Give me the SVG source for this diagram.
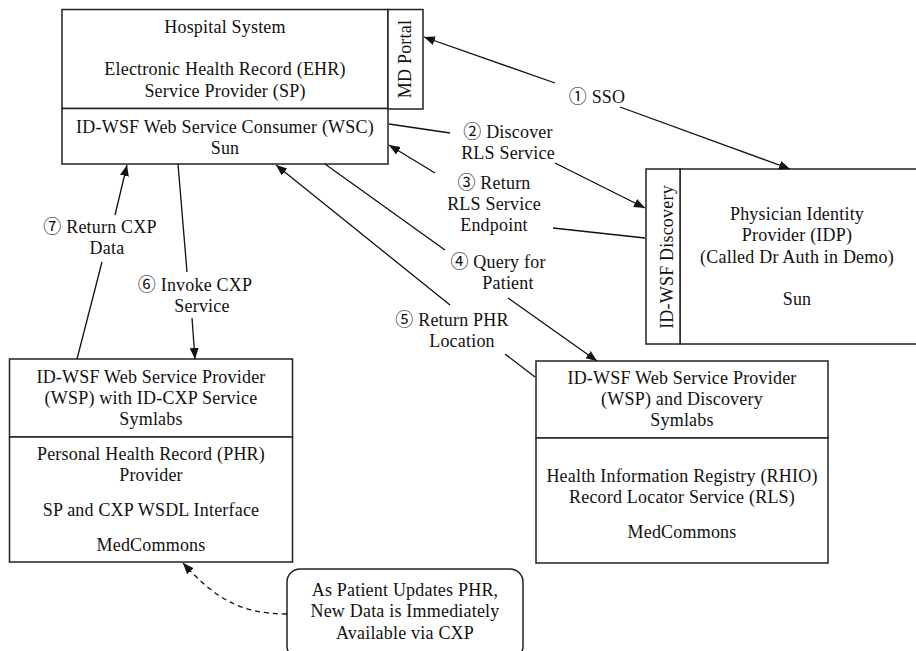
<svg xmlns="http://www.w3.org/2000/svg" width="916" height="651" viewBox="0 0 916 651">
<style>
text{font-family:"Liberation Serif","Noto Sans CJK KR",serif;font-size:18px;fill:#111;text-anchor:middle;letter-spacing:0.2px}
.box{fill:#fff;stroke:#222;stroke-width:1.5}
.c{stroke:#111;stroke-width:1.3;fill:none}
.a{marker-end:url(#ah)}
.d{stroke-dasharray:5,4}
</style>
<defs>
<marker id="ah" markerUnits="userSpaceOnUse" markerWidth="12" markerHeight="10" refX="11" refY="4.5" orient="auto"><path d="M0,0 L11,4.5 L0,9 z" fill="#111"/></marker>
</defs>
<rect width="916" height="651" fill="#fff"/>
<g id="hospital">
<rect class="box" x="62" y="9.5" width="326" height="99"/>
<rect class="box" x="62" y="108.5" width="326" height="55.5"/>
<text x="225" y="33">Hospital System</text>
<text x="225" y="75">Electronic Health Record (EHR)</text>
<text x="225" y="97">Service Provider (SP)</text>
<text x="225" y="133">ID-WSF Web Service Consumer (WSC)</text>
<text x="225" y="154">Sun</text>
</g>
<g id="mdportal">
<rect class="box" x="388" y="9.5" width="35" height="99.5"/>
<text transform="translate(411,59) rotate(-90)">MD Portal</text>
</g>
<g id="idp">
<rect class="box" x="680" y="169" width="250" height="175"/>
<text x="797" y="220">Physician Identity</text>
<text x="797" y="241">Provider (IDP)</text>
<text x="797" y="263">(Called Dr Auth in Demo)</text>
<text x="797" y="305">Sun</text>
</g>
<g id="discovery">
<rect class="box" x="646" y="169" width="34" height="175"/>
<text transform="translate(673,257) rotate(-90)">ID-WSF Discovery</text>
</g>
<g id="phr">
<rect class="box" x="9.5" y="359" width="283" height="78"/>
<rect class="box" x="9.5" y="437" width="283" height="125"/>
<text x="151" y="383">ID-WSF Web Service Provider</text>
<text x="151" y="404">(WSP) with ID-CXP Service</text>
<text x="151" y="425">Symlabs</text>
<text x="151" y="460">Personal Health Record (PHR)</text>
<text x="151" y="481">Provider</text>
<text x="151" y="516">SP and CXP WSDL Interface</text>
<text x="151" y="551">MedCommons</text>
</g>
<g id="rls">
<rect class="box" x="536" y="361" width="292" height="77"/>
<rect class="box" x="536" y="438" width="292" height="125"/>
<text x="682" y="384">ID-WSF Web Service Provider</text>
<text x="682" y="405">(WSP) and Discovery</text>
<text x="682" y="426">Symlabs</text>
<text x="682" y="482">Health Information Registry (RHIO)</text>
<text x="682" y="503">Record Locator Service (RLS)</text>
<text x="682" y="538">MedCommons</text>
</g>
<g id="note">
<rect class="box" x="287" y="569" width="236" height="90" rx="13"/>
<text x="405" y="596">As Patient Updates PHR,</text>
<text x="405" y="617">New Data is Immediately</text>
<text x="405" y="639">Available via CXP</text>
</g>
<g id="connectors">
<line class="c a" x1="555" y1="83" x2="424" y2="37"/>
<line class="c a" x1="620" y1="107" x2="790" y2="169"/>
<line class="c" x1="389" y1="124" x2="450" y2="133"/>
<line class="c a" x1="555" y1="163" x2="645" y2="208"/>
<line class="c" x1="645" y1="238" x2="553" y2="228"/>
<line class="c a" x1="435" y1="173" x2="389" y2="145"/>
<line class="c" x1="325" y1="164" x2="445" y2="250"/>
<line class="c a" x1="508" y1="298" x2="597" y2="361"/>
<line class="c" x1="535" y1="377" x2="505" y2="354"/>
<line class="c a" x1="450" y1="305" x2="276" y2="165"/>
<line class="c" x1="178" y1="164" x2="187" y2="272"/>
<line class="c a" x1="192" y1="318" x2="195" y2="359"/>
<line class="c" x1="77" y1="359" x2="102" y2="262"/>
<line class="c a" x1="115" y1="215" x2="127" y2="165"/>
<path class="c a d" d="M287,614 C237,614 212,595 183,563"/>
</g>
<g id="labels">
<text x="597" y="103">① SSO</text>
<text x="508" y="138">② Discover</text>
<text x="508" y="159">RLS Service</text>
<text x="494" y="189">③ Return</text>
<text x="494" y="210">RLS Service</text>
<text x="494" y="231">Endpoint</text>
<text x="498" y="268">④ Query for</text>
<text x="508" y="289">Patient</text>
<text x="452" y="326">⑤ Return PHR</text>
<text x="462" y="347">Location</text>
<text x="195" y="291">⑥ Invoke CXP</text>
<text x="202" y="312">Service</text>
<text x="100" y="233">⑦ Return CXP</text>
<text x="107" y="254">Data</text>
</g>
</svg>
